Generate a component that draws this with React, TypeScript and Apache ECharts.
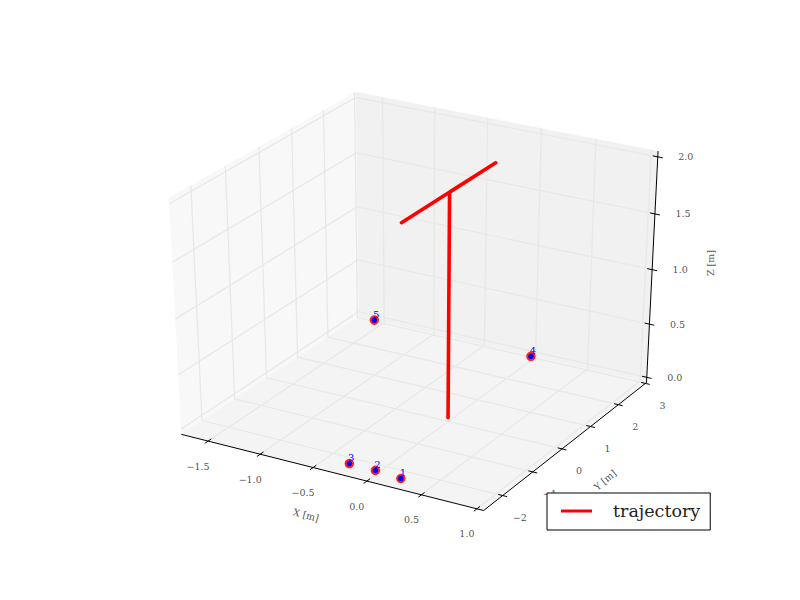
import React, { useEffect, useRef } from "react";
import * as echarts from "echarts";

const xLim = [-1.76, 1.06];
const yLim = [-2.62, 3.04];
const zLim = [-0.05, 2.05];
const xTicks = [-1.5, -1.0, -0.5, 0.0, 0.5, 1.0];
const yTicks = [-2, -1, 0, 1, 2, 3];
const zTicks = [0.0, 0.5, 1.0, 1.5, 2.0];
const xTickLabels = ["\u22121.5", "\u22121.0", "\u22120.5", "0.0", "0.5", "1.0"];
const yTickLabels = ["\u22122", "\u22121", "0", "1", "2", "3"];
const zTickLabels = ["0.0", "0.5", "1.0", "1.5", "2.0"];
const trajectoryX = [0, 0, 0, 0];
const trajectoryY = [-1.5, 1.5, 0, 0];
const trajectoryZ = [2, 2, 2, -0.015];
const waypointNames = ["1", "2", "3", "4", "5"];
const waypointX = [0.26, 0.01, -0.235, 0.008, -1.545];
const waypointY = [-2.44, -2.385, -2.375, 2.84, 2.854];
const waypointZ = [0, 0, 0, 0, 0];

const FONT = "DejaVu Serif";
const TEXT = "#222";

// mplot3d camera: elevation 30, azimuth -60, distance 10
const U = [0.866, 0.5, 0];
const V = [-0.25, 0.433, 0.866];
const N = [0.433, -0.75, 0.5];
const dot = (a: number[], b: number[]) => a[0] * b[0] + a[1] * b[1] + a[2] * b[2];
function project(x: number, y: number, z: number): number[] {
  const p = [
    (x - xLim[0]) / (xLim[1] - xLim[0]) - 0.5,
    (y - yLim[0]) / (yLim[1] - yLim[0]) - 0.5,
    (z - zLim[0]) / (zLim[1] - zLim[0]) - 0.5,
  ];
  const w = 10 - dot(N, p);
  return [417.5 + (3490 * dot(U, p)) / w, 294 - (2700 * dot(V, p)) / w];
}

const [x0, x1] = xLim;
const [y0, y1] = yLim;
const [z0, z1] = zLim;

const panes = [
  { color: "#f8f8f8", corners: [project(x0, y0, z0), project(x0, y1, z0), project(x0, y1, z1), project(x0, y0, z1)] },
  { color: "#f1f1f1", corners: [project(x0, y1, z0), project(x1, y1, z0), project(x1, y1, z1), project(x0, y1, z1)] },
  { color: "#f4f4f4", corners: [project(x0, y0, z0), project(x1, y0, z0), project(x1, y1, z0), project(x0, y1, z0)] },
];

const gridLines = [
  ...xTicks.map((t) => [project(t, y0, z0), project(t, y1, z0), project(t, y1, z1)]),
  ...yTicks.map((t) => [project(x1, t, z0), project(x0, t, z0), project(x0, t, z1)]),
  ...zTicks.map((t) => [project(x1, y1, t), project(x0, y1, t), project(x0, y0, t)]),
];
const axisLines = [
  [project(x0, y0, z0), project(x1, y0, z0), project(x1, y1, z0), project(x1, y1, z1)],
  ...xTicks.map((t) => [project(t, y0 - 0.1, z0), project(t, y0 + 0.1, z0)]),
  ...yTicks.map((t) => [project(x1 - 0.04, t, z0), project(x1 + 0.04, t, z0)]),
  ...zTicks.map((t) => [project(x1 - 0.045, y1, t), project(x1 + 0.045, y1, t)]),
];

function textSeries(data: any[], offset: number[], size: number, color: string, rotate = 0) {
  return {
    type: "scatter",
    silent: true,
    symbolSize: 0,
    z: 3,
    data,
    label: {
      show: true,
      position: "inside",
      formatter: "{b}",
      offset,
      rotate,
      fontFamily: FONT,
      fontSize: size,
      color,
      align: "center",
      verticalAlign: "middle",
    },
  };
}

export default function App() {
  const ref = useRef<HTMLDivElement>(null);
  useEffect(() => {
    const chart = echarts.init(ref.current!, undefined, { renderer: "svg" });
    chart.setOption({
      animation: false,
      backgroundColor: "#fff",
      grid: { left: 0, right: 0, top: 0, bottom: 0 },
      xAxis: { type: "value", min: 0, max: 800, show: false },
      yAxis: { type: "value", min: 0, max: 600, inverse: true, show: false },
      legend: {
        data: ["trajectory"],
        icon: "rect",
        left: 547,
        top: 493,
        orient: "horizontal",
        backgroundColor: "#fff",
        borderColor: "#000",
        borderWidth: 1,
        borderRadius: 0,
        padding: [9, 10, 10, 14],
        itemWidth: 31,
        itemHeight: 3,
        selectedMode: false,
        z: 10,
        textStyle: { fontFamily: FONT, fontSize: 17.5, color: "#222", padding: [0, 0, 0, 16] },
      },
      series: [
        {
          type: "custom",
          silent: true,
          z: 1,
          data: panes.map((_, i) => [i]),
          renderItem: (params: any, api: any) => {
            const pane = panes[params.dataIndex];
            return {
              type: "polygon",
              shape: { points: pane.corners.map((c) => api.coord(c)) },
              style: { fill: pane.color, stroke: "none" },
            };
          },
        },
        {
          type: "lines",
          coordinateSystem: "cartesian2d",
          polyline: true,
          silent: true,
          z: 1.5,
          lineStyle: { color: "#e8e8e8", width: 1.3, opacity: 1 },
          data: gridLines.map((coords) => ({ coords })),
        },
        {
          type: "lines",
          coordinateSystem: "cartesian2d",
          polyline: true,
          silent: true,
          z: 2,
          lineStyle: { color: "#000", width: 1, opacity: 1 },
          data: axisLines.map((coords) => ({ coords })),
        },
        textSeries(xTicks.map((t, i) => ({ name: xTickLabels[i], value: project(t, y0, z0) })), [-10, 25], 9.5, TEXT),
        textSeries(yTicks.map((t, i) => ({ name: yTickLabels[i], value: project(x1, t, z0) })), [17, 22], 9.5, TEXT),
        textSeries(zTicks.map((t, i) => ({ name: zTickLabels[i], value: project(x1, y1, t) })), [28, 0], 9.5, TEXT),
        textSeries([{ name: "X [m]", value: [306, 515] }], [0, 0], 9.5, TEXT, -15),
        textSeries([{ name: "Y [m]", value: [605, 480] }], [0, 0], 9.5, TEXT, 40),
        textSeries([{ name: "Z [m]", value: [710, 263] }], [0, 0], 9.5, TEXT, 90),
        {
          type: "scatter",
          silent: true,
          z: 4,
          symbol: "circle",
          symbolSize: 7.5,
          itemStyle: { color: "#0000ff", borderColor: "#ff2020", borderWidth: 2, opacity: 1 },
          data: waypointNames.map((name, i) => ({
            name,
            value: project(waypointX[i], waypointY[i], waypointZ[i]),
          })),
          label: {
            show: true,
            position: "inside",
            formatter: "{b}",
            offset: [2, -6],
            fontFamily: FONT,
            fontSize: 10,
            color: "#0000ff",
          },
        },
        {
          type: "line",
          name: "trajectory",
          silent: true,
          z: 5,
          symbol: "none",
          lineStyle: { color: "#ff0000", width: 3.6, cap: "round", join: "round" },
          itemStyle: { color: "#ff0000" },
          data: trajectoryX.map((x, i) => project(x, trajectoryY[i], trajectoryZ[i])),
        },
      ],
    });
    return () => chart.dispose();
  }, []);
  return <div ref={ref} style={{ position: "fixed", left: 0, top: 0, width: 800, height: 600 }} />;
}
